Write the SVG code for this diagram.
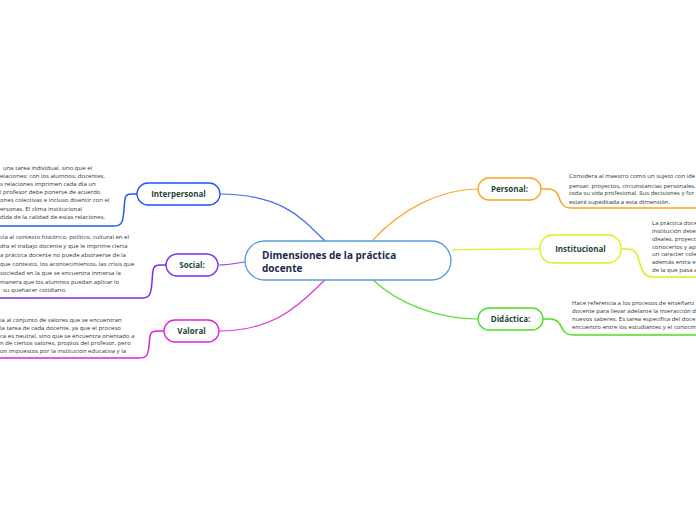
<svg xmlns="http://www.w3.org/2000/svg" width="696" height="520" viewBox="0 0 696 520">
<style>
.node rect{fill:#fff;stroke-width:1.3}
.lbl{font-family:"Open Sans","Liberation Sans",sans-serif;font-weight:bold;font-size:8px;fill:#1f4636;text-anchor:middle}
.main{font-family:"Open Sans","Liberation Sans",sans-serif;font-weight:bold;font-size:10px;fill:#1b2a4e}
.body{font-family:"Open Sans","Liberation Sans",sans-serif;font-size:6px;fill:#333}
.c{fill:none;stroke-width:1.2}
.u{fill:none;stroke-width:1.5}
</style>
<rect width="696" height="520" fill="#fff"/>
<g id="connectors">
<path class="c" stroke="#3d6cf0" d="M220,194 C285,194 305,222 325,241"/>
<path class="c" stroke="#8a48f0" d="M219,265 C230,265 236,263 245,262"/>
<path class="c" stroke="#e030e0" d="M219,331 C280,331 305,298 325,280"/>
<path class="c" stroke="#ffa726" d="M372,241 C400,210 440,189 478,189"/>
<path class="c" stroke="#d6f22a" d="M451,250 C490,249 510,249 540,249"/>
<path class="c" stroke="#55e030" d="M373,280 C400,305 440,319 478,319"/>
<path class="u" stroke="#2458f0" d="M137,194 L131,194 C124,194 125,199 124,210 C123,222 122,226 114,226 L0,226"/>
<path class="u" stroke="#7a2cf0" d="M166,265 L160,265 C152,265 153,270 152,282 C151,294 150,298 142,298 L0,298"/>
<path class="u" stroke="#e020e0" d="M164,331 L157,331 C149,331 150,336 149,346 C148,355 147,358 139,358 L0,358"/>
<path class="u" stroke="#ffa21e" d="M541,189 L548,189 C556,189 558,194 560,200 C562,206 565,208 572,208 L696,208"/>
<path class="u" stroke="#d4f31e" d="M621,249 L628,249 C636,249 638,256 640,264 C642,272 645,277 652,277 L696,277"/>
<path class="u" stroke="#4ce020" d="M543,319 L550,319 C558,319 560,324 562,328 C564,333 567,335 574,335 L696,335"/>
</g>
<g id="central" class="node">
<rect x="245" y="241" width="206" height="39" rx="19.5" stroke="#5b9bd5"/>
<text class="main" x="262" y="259">Dimensiones de la práctica</text>
<text class="main" x="262" y="272">docente</text>
</g>
<g id="interpersonal" class="node">
<rect x="137" y="183" width="83" height="22" rx="11" stroke="#1a55f5"/>
<text class="lbl" x="178.5" y="197">Interpersonal</text>
</g>
<g id="interpersonal-text">
<text class="body" x="3" y="170">una tarea individual, sino que el</text>
<text class="body" x="0" y="178">elaciones: con los alumnos, docentes,</text>
<text class="body" x="0" y="186">s relaciones imprimen cada día un</text>
<text class="body" x="0" y="194">l profesor debe  ponerse de acuerdo</text>
<text class="body" x="0" y="202">ones colectivas e incluso disentir con el</text>
<text class="body" x="0" y="211">ersonas. El clima institucional</text>
<text class="body" x="0" y="219">dida de la calidad de estas relaciones.</text>
</g>
<g id="social" class="node">
<rect x="166" y="254" width="52" height="22" rx="11" stroke="#7a2cf0"/>
<text class="lbl" x="192" y="268">Social:</text>
</g>
<g id="social-text">
<text class="body" x="0" y="239">cia al contexto histórico, político, cultural en el</text>
<text class="body" x="0" y="248">dra el trabajo docente y que le imprime cierta</text>
<text class="body" x="0" y="257">a práctica docente no puede abstraerse de la</text>
<text class="body" x="0" y="266">que contexto, los acontecimientos, las crisis que</text>
<text class="body" x="0" y="275">sociedad en la que se encuentra inmersa la</text>
<text class="body" x="0" y="284">manera que los alumnos puedan aplicar lo</text>
<text class="body" x="3" y="292">su quehacer cotidiano.</text>
</g>
<g id="valoral" class="node">
<rect x="164" y="320" width="55" height="22" rx="11" stroke="#e020e0"/>
<text class="lbl" x="191.5" y="334">Valoral</text>
</g>
<g id="valoral-text">
<text class="body" x="0" y="322">ia al conjunto de valores que se encuentran</text>
<text class="body" x="0" y="330">la tarea de cada docente, ya que el proceso</text>
<text class="body" x="0" y="338">ca es neutral, sino que se encuentra orientado a</text>
<text class="body" x="0" y="345">n de ciertos valores, propios del profesor, pero</text>
<text class="body" x="0" y="353">on impuestos por la institución educativa y la</text>
</g>
<g id="personal" class="node">
<rect x="478" y="178" width="63" height="22" rx="11" stroke="#ffa21e"/>
<text class="lbl" x="509.5" y="192">Personal:</text>
</g>
<g id="personal-text">
<text class="body" x="569" y="178">Considera al maestro como un sujeto con ide</text>
<text class="body" x="569" y="188">pensar, proyectos, circunstancias personales,</text>
<text class="body" x="569" y="195">toda su vida profesional. Sus decisiones y for</text>
<text class="body" x="569" y="204">estará supeditada a esta dimensión.</text>
</g>
<g id="institucional" class="node">
<rect x="540" y="235" width="81" height="28" rx="13" stroke="#d4f31e"/>
<text class="lbl" x="580.5" y="252">Institucional</text>
</g>
<g id="institucional-text">
<text class="body" x="652" y="225">La práctica doce</text>
<text class="body" x="652" y="233">institución deter</text>
<text class="body" x="652" y="241">ideales, proyect</text>
<text class="body" x="652" y="249">conocerlos y apl</text>
<text class="body" x="652" y="256">un caracter cole</text>
<text class="body" x="652" y="264">además entra e</text>
<text class="body" x="652" y="272">de la que pasa a</text>
</g>
<g id="didactica" class="node">
<rect x="478" y="308" width="65" height="22" rx="11" stroke="#4ce020"/>
<text class="lbl" x="510.5" y="322">Didáctica:</text>
</g>
<g id="didactica-text">
<text class="body" x="572" y="305">Hace referencia a los procesos de enseñanz</text>
<text class="body" x="572" y="313">docente para llevar adelante la interacción d</text>
<text class="body" x="572" y="321">nuevos saberes. Es tarea específica del doce</text>
<text class="body" x="572" y="329">encuentro entre los estudiantes y el conocim</text>
</g>
</svg>
